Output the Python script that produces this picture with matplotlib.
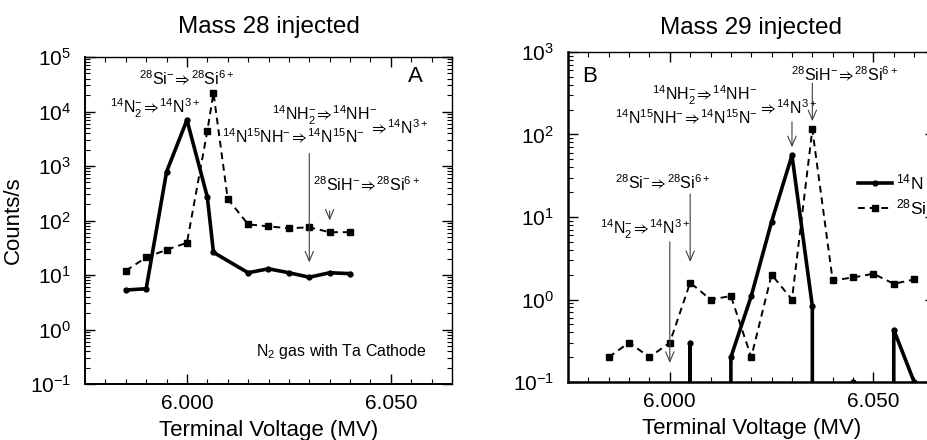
import matplotlib
matplotlib.use("Agg")
import matplotlib.pyplot as plt
from matplotlib.ticker import (FixedLocator, MultipleLocator, LogLocator,
                               FormatStrFormatter, NullFormatter)

plt.rcParams.update({
    "font.family": ["Liberation Sans", "DejaVu Sans"],
    "mathtext.fontset": "custom",
    "mathtext.rm": "Liberation Sans",
    "mathtext.it": "Liberation Sans:italic",
    "mathtext.bf": "Liberation Sans:bold",
    "mathtext.sf": "Liberation Sans",
    "mathtext.fallback": "stixsans",
    "mathtext.default": "rm",
})

# ---- Panel A: mass 28 injected ----
a_si_voltage = [5.985, 5.990, 5.995, 6.000, 6.005, 6.0065, 6.010, 6.015,
                6.020, 6.025, 6.030, 6.035, 6.040]
a_si_counts = [12, 21, 29, 39, 4400, 22000, 250, 85, 78, 72, 75, 61, 61]
a_n_voltage = [5.985, 5.990, 5.995, 6.000, 6.005, 6.0065, 6.015, 6.020,
               6.025, 6.030, 6.035, 6.040]
a_n_counts = [5.3, 5.6, 780, 7000, 270, 26, 11, 13, 11, 9.1, 11, 10.6]

# ---- Panel B: mass 29 injected ----
b_voltage = [5.985, 5.990, 5.995, 6.000, 6.005, 6.010, 6.015, 6.020,
             6.025, 6.030, 6.035, 6.040, 6.045, 6.050, 6.055, 6.060]
b_si_counts = [0.2, 0.3, 0.2, 0.3, 1.6, 1.0, 1.1, 0.2,
               2.0, 1.0, 115, 1.7, 1.85, 2.05, 1.55, 1.75]
b_n_counts = [0, 0, 0, 0, 0.3, 0, 0.2, 1.1,
              8.8, 56, 0.83, 0, 0.1, 0, 0.43, 0.1]

x_major = [6.000, 6.050]
x_limits = (5.975, 6.065)

# reaction labels
TO = r"$\hspace{-0.1}\Rightarrow\hspace{-0.1}$"
lbl_si = r"$^{28}$Si$^{-}$" + TO + r"$^{28}$Si$^{6+}$"
lbl_n2 = r"$^{14}$N$_2^{-}$" + TO + r"$^{14}$N$^{3+}$"
lbl_nh2 = r"$^{14}$NH$_2^{-}$" + TO + r"$^{14}$NH$^{-}$"
lbl_nnh = r"$^{14}$N$^{15}$NH$^{-}$" + TO + r"$^{14}$N$^{15}$N$^{-}$"
lbl_n3 = TO + r"$^{14}$N$^{3+}$"
lbl_sih = r"$^{28}$SiH$^{-}$" + TO + r"$^{28}$Si$^{6+}$"

W, H = 927, 440
fig = plt.figure(figsize=(W / 100, H / 100), dpi=100)
axA = fig.add_axes([85 / W, 1 - 384 / H, (452 - 85) / W, (384 - 57) / H])
axB = fig.add_axes([568 / W, 1 - 382 / H, (934.5 - 568) / W, (382 - 52) / H])


def style_axes(ax, ylim, spine_w):
    ax.set_yscale("log")
    ax.set_xlim(*x_limits)
    ax.set_ylim(*ylim)
    ax.xaxis.set_major_locator(FixedLocator(x_major))
    ax.xaxis.set_minor_locator(MultipleLocator(0.005))
    ax.xaxis.set_major_formatter(FormatStrFormatter("%.3f"))
    ax.yaxis.set_major_locator(LogLocator(base=10, numticks=12))
    ax.yaxis.set_minor_locator(LogLocator(base=10, subs=range(2, 10), numticks=12))
    ax.yaxis.set_minor_formatter(NullFormatter())
    ax.tick_params(which="both", direction="in", top=True, right=True,
                   colors="black")
    ax.tick_params(which="major", length=7, width=1.0, labelsize=15)
    ax.tick_params(which="minor", length=3.5, width=0.8)
    ax.tick_params(axis="x", which="major", pad=7)
    ax.tick_params(axis="y", which="major", pad=10)
    ax.spines["left"].set_linewidth(spine_w)
    ax.spines["bottom"].set_linewidth(spine_w)
    ax.spines["top"].set_linewidth(1.0)
    ax.spines["right"].set_linewidth(1.0)
    ax.set_xlabel("Terminal Voltage (MV)", fontsize=16, labelpad=5)


n_style = dict(color="black", lw=2.6, marker="o", ms=3.5, ls="-")
si_style = dict(color="black", lw=1.4, marker="s", ms=4.5, ls=(0, (3.5, 2.5)))
arrow_kw = dict(arrowstyle="->,head_length=0.7,head_width=0.3", lw=0.8,
                color="0.25", shrinkA=0, shrinkB=0, mutation_scale=10)
ann_fs = 11.5

# ---------------- panel A ----------------
style_axes(axA, (0.1, 1e5), 1.4)
axA.plot(a_n_voltage, a_n_counts, **n_style)
axA.plot(a_si_voltage, a_si_counts, **si_style)
axA.set_title("Mass 28 injected", fontsize=17.5, pad=17)
axA.set_ylabel("Counts/s", fontsize=16, labelpad=4)

axA.text(0.90, 0.94, "A", transform=axA.transAxes, fontsize=16,
         ha="center", va="center")
axA.text(6.000, 40000, lbl_si, fontsize=ann_fs, ha="center", va="center")
axA.text(5.9921, 11500, lbl_n2, fontsize=ann_fs, ha="center", va="center")
axA.text(6.0338, 8500, lbl_nh2, fontsize=ann_fs, ha="center", va="center")
axA.text(6.0262, 3400, lbl_nnh, fontsize=ann_fs, ha="center", va="center")
axA.text(6.0448, 5100, lbl_n3, fontsize=ann_fs, ha="left", va="center")
axA.annotate("", xy=(6.030, 17), xytext=(6.030, 1700), arrowprops=arrow_kw)
axA.text(6.031, 460, lbl_sih, fontsize=ann_fs, ha="left", va="center")
axA.annotate("", xy=(6.035, 100), xytext=(6.035, 150), arrowprops=arrow_kw)
axA.text(0.70, 0.098, r"N$_2$ gas with Ta Cathode", transform=axA.transAxes,
         fontsize=11.5, ha="center", va="center")

# ---------------- panel B ----------------
style_axes(axB, (0.1, 1e3), 1.8)
axB.plot(b_voltage, b_n_counts, label=r"$^{14}$N", **n_style)
axB.plot(b_voltage, b_si_counts, label=r"$^{28}$Si", **si_style)
axB.set_title("Mass 29 injected", fontsize=17.5, pad=13)

axB.text(0.06, 0.927, "B", transform=axB.transAxes, fontsize=16,
         ha="center", va="center")
axB.text(6.0428, 525, lbl_sih, fontsize=ann_fs, ha="center", va="center")
axB.annotate("", xy=(6.035, 145), xytext=(6.035, 420), arrowprops=arrow_kw)
axB.text(6.0085, 300, lbl_nh2, fontsize=ann_fs, ha="center", va="center")
axB.text(6.0040, 158, lbl_nnh, fontsize=ann_fs, ha="center", va="center")
axB.text(6.0220, 209, lbl_n3, fontsize=ann_fs, ha="left", va="center")
axB.annotate("", xy=(6.030, 70), xytext=(6.030, 142), arrowprops=arrow_kw)
axB.text(5.9982, 26, lbl_si, fontsize=ann_fs, ha="center", va="center")
axB.annotate("", xy=(6.005, 2.85), xytext=(6.005, 19), arrowprops=arrow_kw)
axB.text(5.9940, 7.0, lbl_n2, fontsize=ann_fs, ha="center", va="center")
axB.annotate("", xy=(6.000, 0.17), xytext=(6.000, 5.0), arrowprops=arrow_kw)

axB.legend(loc="center left", bbox_to_anchor=(0.79, 0.568), frameon=False,
           fontsize=12.5, handlelength=2.0, handletextpad=0.2,
           labelspacing=0.3, borderpad=0, borderaxespad=0)

fig.savefig("out.png", dpi=100)
